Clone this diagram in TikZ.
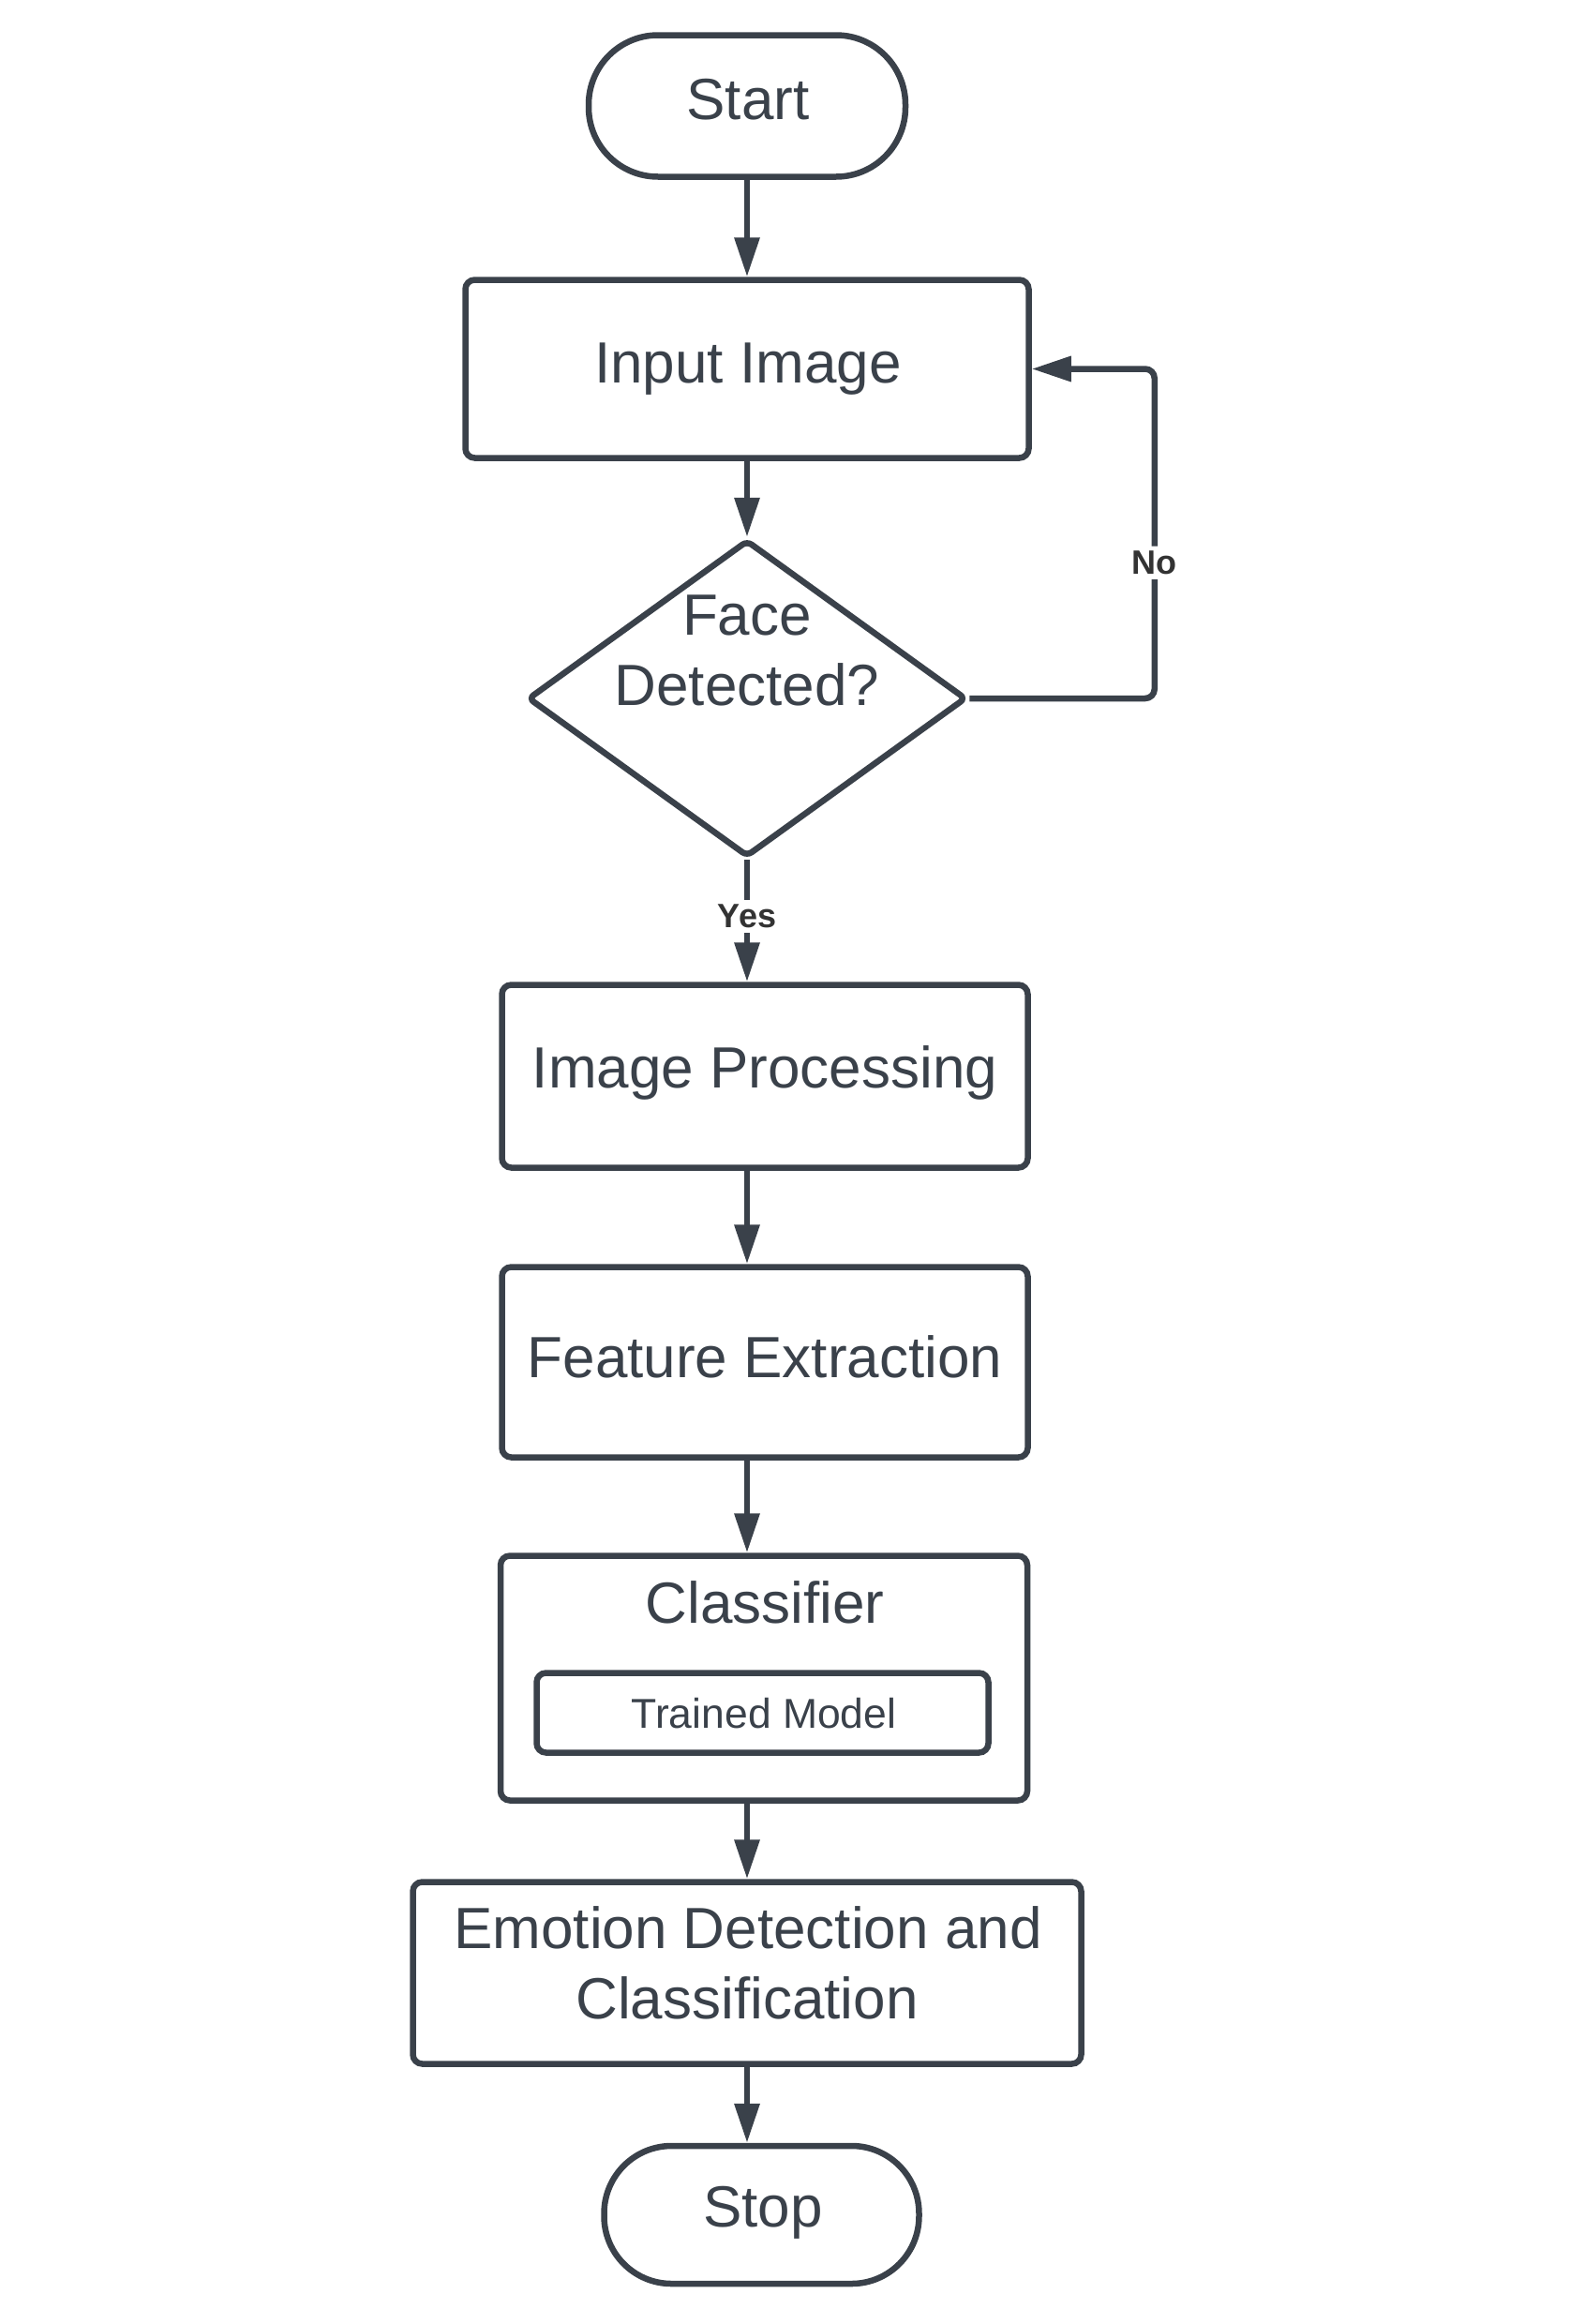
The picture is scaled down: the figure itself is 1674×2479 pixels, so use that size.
\documentclass[tikz,border=0pt]{standalone}
\usepackage{fontspec}
\setmainfont{Liberation Sans}
\usetikzlibrary{shapes.geometric,arrows.meta,calc}
\definecolor{ink}{HTML}{3A414A}
\definecolor{lab}{HTML}{333333}
\begin{document}
\begin{tikzpicture}[x=1pt,y=-1pt,
  boxshape/.style={draw=ink, line width=6.5pt, rectangle, rounded corners=10pt, inner sep=0pt},
  termshape/.style={draw=ink, line width=6.5pt, rectangle, rounded corners=74pt, inner sep=0pt},
  decshape/.style={draw=ink, line width=6.5pt, diamond, rounded corners=6pt, inner sep=0pt},
  txt/.style={anchor=base, inner sep=0pt, text=ink, font=\fontsize{62}{75}\selectfont},
  smalltxt/.style={anchor=base, inner sep=0pt, text=ink, font=\fontsize{44.5}{52}\selectfont},
  lbl/.style={fill=white, text=lab, font=\bfseries\fontsize{36}{40}\selectfont, inner sep=5pt},
  arr/.style={draw=ink, line width=6.5pt, -{Triangle[length=42pt,width=26pt]}}
]
\useasboundingbox (0,0) rectangle (1674,2479);

% shapes
\node[termshape, minimum width=338pt, minimum height=151pt] (start) at (797,113) {};
\node[boxshape, minimum width=601pt, minimum height=190pt] (input) at (797,393.5) {};
\node[decshape, minimum width=468pt, minimum height=338pt] (dia) at (797,745) {};
\node[boxshape, minimum width=561pt, minimum height=195pt] (ip) at (816,1148) {};
\node[boxshape, minimum width=561pt, minimum height=203pt] (fe) at (816,1453) {};
\node[boxshape, minimum width=562pt, minimum height=261pt] (cls) at (815,1790) {};
\node[boxshape, minimum width=482pt, minimum height=85pt] (tm) at (813.5,1827) {};
\node[boxshape, minimum width=713pt, minimum height=194pt] (em) at (797,2104.5) {};
\node[termshape, rounded corners=72pt, minimum width=336pt, minimum height=147pt] (stop) at (812.5,2362.5) {};

% texts
\node[txt] (tstart) at (798,127) {Start};
\node[txt] (tinput) at (798,408) {Input Image};
\node[txt] (tface) at (797,677) {Face};
\node[txt] (tdet) at (797,752) {Detected?};
\node[txt] (tip) at (816,1160) {Image Processing};
\node[txt] (tfe) at (816,1469) {Feature Extraction};
\node[txt] (tcls) at (816,1731) {Classifier};
\node[smalltxt] (ttm) at (815,1843) {Trained Model};
\node[txt] (tem1) at (798,2078) {Emotion Detection and};
\node[txt] (tem2) at (797,2153) {Classification};
\node[txt] (tstop) at (814,2375) {Stop};

% connectors
\draw[arr] (start) -- (input);
\draw[arr] (input.south) -- (dia.north);
\draw[arr] (dia.south) -- node[lbl, pos=0.46] (yes) {Yes} (dia.south |- ip.north);
\draw[arr] (dia.south |- ip.south) -- (dia.south |- fe.north);
\draw[arr] (dia.south |- fe.south) -- (dia.south |- cls.north);
\draw[arr] (em.north |- cls.south) -- (em.north);
\draw[arr] (em.south) -- (em.south |- stop.north);
\draw[arr, rounded corners=10pt] (dia.east) -| node[lbl, pos=0.706] (no) {No} ($(input.east)+(131,0)$) -- (input.east);
\end{tikzpicture}
\end{document}
